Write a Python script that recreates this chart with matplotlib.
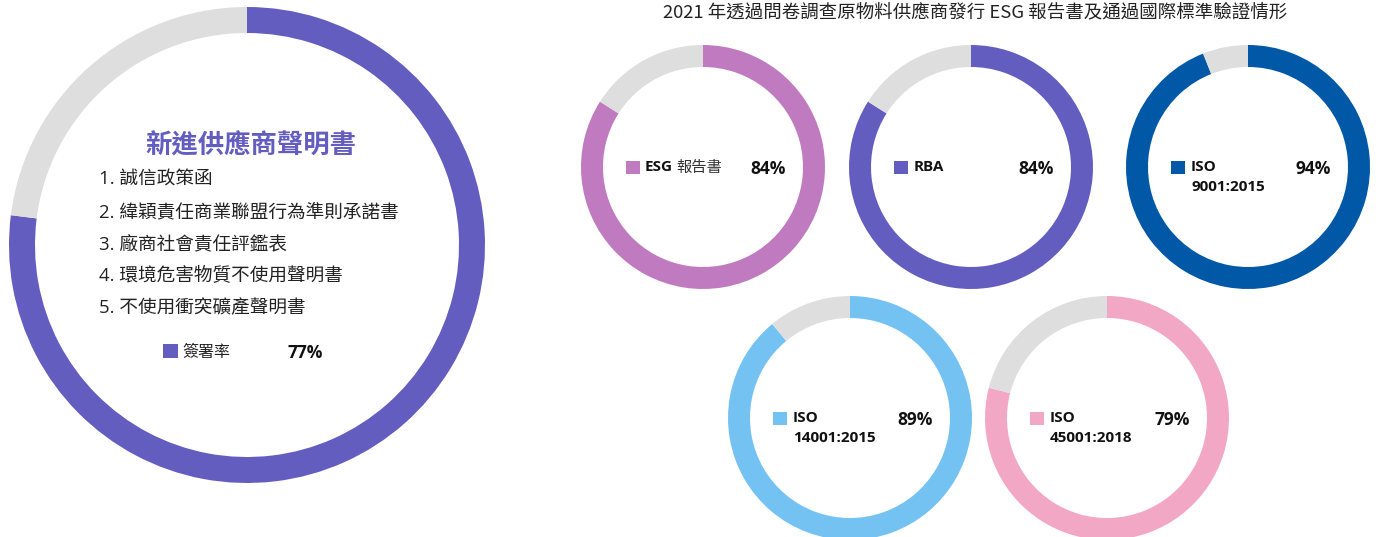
import matplotlib.pyplot as plt

plt.rcParams["font.family"] = ["Open Sans", "Noto Sans CJK TC", "DejaVu Sans"]

W, H = 1380, 537

# data
title = "2021 年透過問卷調查原物料供應商發行 ESG 報告書及通過國際標準驗證情形"
big_title = "新進供應商聲明書"
big_items = [
    "1. 誠信政策函",
    "2. 緯穎責任商業聯盟行為準則承諾書",
    "3. 廠商社會責任評鑑表",
    "4. 環境危害物質不使用聲明書",
    "5. 不使用衝突礦產聲明書",
]
big_label = "簽署率"
big_value = 77

small_names = ["ESG", "RBA", "ISO", "ISO", "ISO"]
small_sub = ["報告書", "", "9001:2015", "14001:2015", "45001:2018"]
small_values = [84, 84, 94, 89, 79]

# layout (pixel coordinates, y measured from top)
PURPLE = "#645DC0"
GRAY = "#DEDEDE"
small_colors = ["#C07BC0", "#645DC0", "#0058A6", "#74C2F2", "#F2A8C5"]
small_centers = [(703, 167), (971, 167), (1248, 167), (850, 418), (1107, 418)]
small_r = 122

fig = plt.figure(figsize=(W / 100, H / 100), dpi=100)
ax = fig.add_axes([0, 0, 1, 1])


def donut(cx, cy, r, value, color, width):
    ax.pie([value, 100 - value], colors=[color, GRAY], startangle=90,
           counterclock=False, center=(cx, H - cy), radius=r, frame=True,
           wedgeprops=dict(width=width, linewidth=0))


def txt(x, y, s, **kw):
    ax.text(x, H - y, s, va="center", **kw)


# big donut
donut(247, 245, 238, big_value, PURPLE, 26)
txt(251, 146, big_title, ha="center", fontsize=19, fontweight="bold",
    color=PURPLE, family=["Noto Sans CJK TC"])
for i, item in enumerate(big_items):
    txt(99, 180 + 32 * i, item, fontsize=13.4, color="#222222",
        family=["Open Sans", "Noto Sans CJK TC"])
ax.add_patch(plt.Rectangle((163, H - 358), 15, 14, color=PURPLE, lw=0))
txt(182, 352, big_label, fontsize=11.5, color="#222222",
    family=["Noto Sans CJK TC"])
txt(305, 353, f"{big_value}%", ha="center", fontsize=12.5, fontweight="bold",
    color="#111111")

# title
txt(975, 12, title, ha="center", fontsize=13.3, color="#222222",
    family=["Noto Sans CJK TC"])

# small donuts
for i, v in enumerate(small_values):
    cx, cy = small_centers[i]
    donut(cx, cy, small_r, v, small_colors[i], 22)
    sx = cx - 77
    ax.add_patch(plt.Rectangle((sx, H - cy - 7), 14, 13,
                               color=small_colors[i], lw=0))
    if small_sub[i] and i == 0:
        txt(sx + 19, cy, small_names[i], fontsize=11, fontweight="bold",
            color="#111111")
        txt(sx + 50, cy, small_sub[i], fontsize=11, color="#333333",
            family=["Noto Sans CJK TC"])
    else:
        txt(sx + 20, cy, small_names[i], fontsize=11, fontweight="bold",
            color="#111111")
        if small_sub[i]:
            txt(sx + 20, cy + 20, small_sub[i], fontsize=11, fontweight="bold",
                color="#111111")
    txt(cx + 65, cy + 2, f"{v}%", ha="center", fontsize=12.5,
        fontweight="bold", color="#111111")

ax.set_xlim(0, W)
ax.set_ylim(0, H)
ax.set_aspect("equal")
ax.axis("off")

fig.savefig("out.png", dpi=100)
